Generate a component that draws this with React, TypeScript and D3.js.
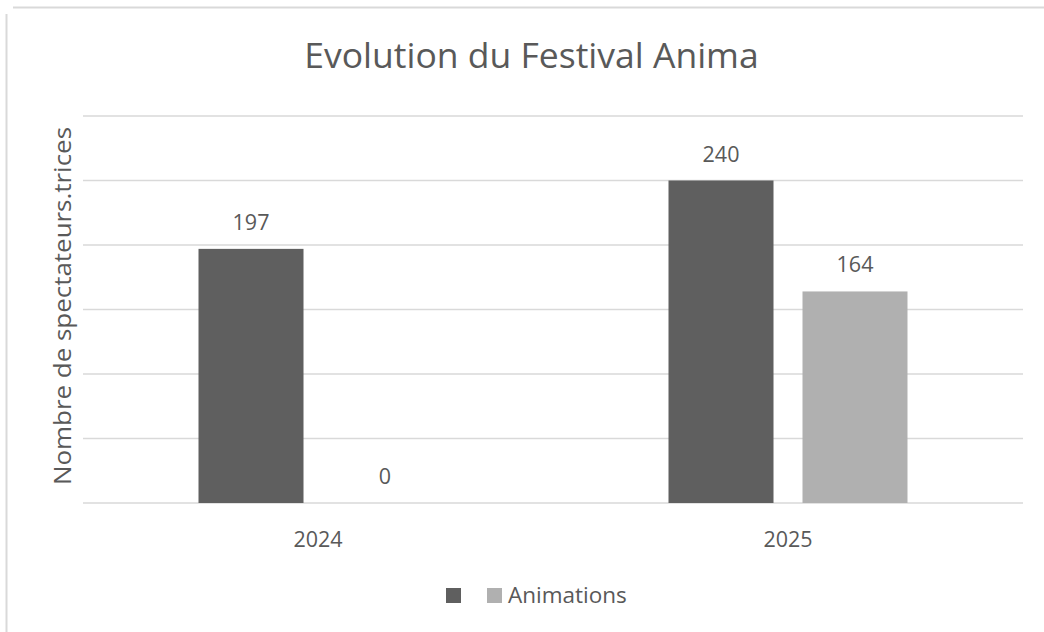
import React from "react";
import * as d3 from "d3";

const title = "Evolution du Festival Anima";
const yAxisTitle = "Nombre de spectateurs.trices";
const categories = ["2024", "2025"];
const seriesNames = ["", "Animations"];
const seriesColors = ["#5f5f5f", "#b0b0b0"];
// bar heights as drawn in the picture
const seriesA = [197, 250];
const seriesB = [0, 164];
// data labels as printed in the picture
const labelsA = ["197", "240"];
const labelsB = ["0", "164"];
const yTicks = [0, 50, 100, 150, 200, 250, 300];

const W = 1044;
const H = 632;
const FONT = "'Open Sans', 'Segoe UI', sans-serif";
const TEXT = "#595959";
const GRID = "#d9d9d9";

export default function App() {
  const plotLeft = 83;
  const plotRight = 1023;
  const plotTop = 116;
  const plotBottom = 503;

  const x = d3.scaleBand<string>().domain(categories).range([plotLeft, plotRight]).paddingInner(0).paddingOuter(0);
  const xs = d3
    .scaleBand<number>()
    .domain([0, 1])
    .range([0, x.bandwidth()])
    .paddingInner(29 / 134)
    .paddingOuter(0.862);
  const y = d3.scaleLinear().domain([0, 300]).range([plotBottom, plotTop]);

  const series = [
    { vals: seriesA, labels: labelsA },
    { vals: seriesB, labels: labelsB },
  ];

  return (
    <svg width={W} height={H} style={{ position: "absolute", left: 0, top: 0, background: "#fff" }} fontFamily={FONT}>
      <rect x={0} y={0} width={W} height={H} fill="#fff" />
      {/* chart border fragments */}
      <line x1={13} x2={W} y1={7.5} y2={7.5} stroke={GRID} strokeWidth={2} />
      <line x1={6.5} x2={6.5} y1={14} y2={H} stroke={GRID} strokeWidth={2} />

      <text x={531.5} y={68} textAnchor="middle" fontSize={35.5} fill={TEXT}>
        {title}
      </text>

      {yTicks.map((t) => (
        <line key={t} x1={plotLeft} x2={plotRight} y1={y(t)} y2={y(t)} stroke={GRID} strokeWidth={1.5} />
      ))}

      {categories.map((c, i) => (
        <g key={c}>
          {series.map((s, j) => {
            const bx = (x(c) as number) + (xs(j) as number);
            const v = s.vals[i];
            return (
              <g key={j}>
                {v > 0 && (
                  <rect x={bx} y={y(v)} width={xs.bandwidth()} height={y(0) - y(v)} fill={seriesColors[j]} />
                )}
                <text x={bx + xs.bandwidth() / 2} y={y(v) - 19} textAnchor="middle" fontSize={21.5} fill={TEXT}>
                  {s.labels[i]}
                </text>
              </g>
            );
          })}
          <text x={(x(c) as number) + x.bandwidth() / 2} y={547} textAnchor="middle" fontSize={21.5} fill={TEXT}>
            {c}
          </text>
        </g>
      ))}

      <text
        transform={`translate(71, 306) rotate(-90)`}
        textAnchor="middle"
        fontSize={24}
        textLength={358}
        lengthAdjust="spacingAndGlyphs"
        fill={TEXT}
      >
        {yAxisTitle}
      </text>

      {/* legend */}
      <g>
        <rect x={446} y={588} width={15} height={15} fill={seriesColors[0]} />
        <text x={466} y={603} fontSize={22.5} fill={TEXT}>
          {seriesNames[0]}
        </text>
        <rect x={487} y={588} width={15} height={15} fill={seriesColors[1]} />
        <text x={508} y={603} fontSize={22.5} fill={TEXT}>
          {seriesNames[1]}
        </text>
      </g>
    </svg>
  );
}
